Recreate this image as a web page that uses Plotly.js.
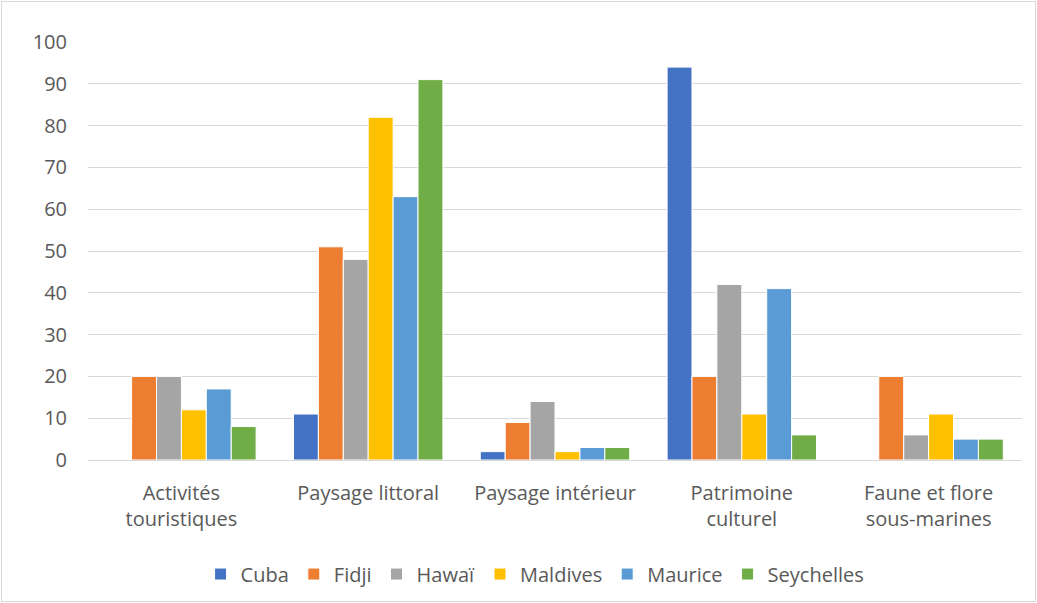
<!DOCTYPE html>
<html><head><meta charset="utf-8">
<script src="https://cdn.plot.ly/plotly-3.0.1.min.js"></script>
<style>
html,body{margin:0;padding:0;background:#fff;}
#wrap{position:absolute;left:1px;top:1px;width:1033px;height:599px;border:1px solid #d9d9d9;}
#chart{position:absolute;left:0;top:0;width:1037px;height:603px;}
</style></head>
<body><div id="wrap"></div><div id="chart"></div>
<script>
const categories = ["Activités<br>touristiques","Paysage littoral","Paysage intérieur","Patrimoine<br>culturel","Faune et flore<br>sous-marines"];
const seriesNames = ["Cuba","Fidji","Hawaï","Maldives","Maurice","Seychelles"];
const cuba = [0,11,2,94,0];
const fidji = [20,51,9,20,20];
const hawai = [20,48,14,42,6];
const maldives = [12,82,2,11,11];
const maurice = [17,63,3,41,5];
const seychelles = [8,91,3,6,5];
const colors = ["#4472C4","#ED7D31","#A5A5A5","#FFC000","#5B9BD5","#70AD47"];
const values = [cuba,fidji,hawai,maldives,maurice,seychelles];
const traces = seriesNames.map((n,i)=>({type:'bar',name:n,x:categories,y:values[i],
  marker:{color:colors[i],line:{color:'#ffffff',width:1}},hoverinfo:'y+name'}));
const font = {family:'"Open Sans", "Noto Sans", sans-serif', color:'#595959', size:20};
Plotly.newPlot('chart',traces,{
  width:1037,height:603,
  margin:{l:88,r:15,t:42,b:143},
  paper_bgcolor:'rgba(0,0,0,0)',plot_bgcolor:'#fff',
  font:font,
  barmode:'group',bargap:0.2,bargroupgap:0,
  xaxis:{showgrid:false,showline:true,linecolor:'#d9d9d9',linewidth:1,ticks:'',tickfont:{size:20,color:'#595959'},zeroline:false,ticklabelstandoff:15,automargin:false},
  yaxis:{range:[0,100],dtick:10,showgrid:true,gridcolor:'#d9d9d9',gridwidth:1,zeroline:false,showline:false,ticks:'',tickfont:{size:20,color:'#595959'},ticklabelstandoff:20,automargin:false},
  legend:{orientation:'h',xref:'container',yref:'container',x:0.516,xanchor:'center',y:0.048,yanchor:'middle',font:{size:20,color:'#595959'},itemwidth:30,tracegroupgap:0},
  showlegend:true
},{displayModeBar:false,staticPlot:true});
</script></body></html>
